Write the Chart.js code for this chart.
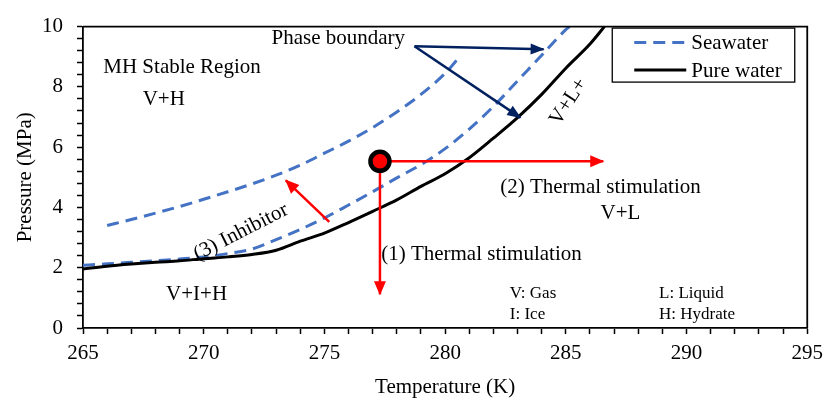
<!DOCTYPE html>
<html>
<head>
<meta charset="utf-8">
<script src="https://cdn.jsdelivr.net/npm/chart.js@4.4.1/dist/chart.umd.min.js"></script>
<style>
  html, body { margin: 0; padding: 0; background: #fff; }
</style>
</head>
<body>
<canvas id="phaseChart" width="830" height="402"></canvas>
<script>
// Axis ticks that carry a label
const tempTicks = [265, 270, 275, 280, 285, 290, 295];
const pressureTicks = [0, 2, 4, 6, 8, 10];

// Pure water hydrate equilibrium (T in K, P in MPa)
const pureT = [265, 266, 267, 268, 269, 270, 271, 272, 273, 274, 275, 276, 277, 278, 279, 280, 281, 282, 283, 284, 285, 286, 286.6];
const pureP = [1.96, 2.05, 2.12, 2.18, 2.23, 2.30, 2.36, 2.44, 2.58, 2.88, 3.15, 3.5, 3.87, 4.25, 4.7, 5.12, 5.65, 6.3, 6.98, 7.75, 8.62, 9.42, 10.0];

// Seawater, lower curve
const seaLowT = [265, 266, 267, 268, 269, 270, 271, 272, 273, 274, 275, 276, 277, 278, 279, 280, 281, 282, 283, 284, 285, 285.15];
const seaLowP = [2.08, 2.13, 2.18, 2.23, 2.29, 2.36, 2.47, 2.62, 2.93, 3.27, 3.65, 4.08, 4.52, 4.98, 5.42, 5.95, 6.6, 7.35, 8.2, 9.05, 9.9, 10.0];

// Seawater, upper curve
const seaHighT = [266, 267, 268, 269, 270, 271, 272, 273, 274, 275, 276, 277, 278, 279, 280, 280.65];
const seaHighP = [3.4, 3.6, 3.81, 4.03, 4.27, 4.52, 4.78, 5.07, 5.4, 5.8, 6.2, 6.65, 7.17, 7.75, 8.45, 9.05];

// Initial reservoir state and dissociation paths
const startState = [277.3, 5.53];
const heatAlongP = [286.55, 5.53];
const depressurize = [277.3, 1.12];
const inhibitorFrom = [275.2, 3.52];
const inhibitorTo = [273.4, 4.9];
const boundaryLabel = [278.73, 9.35];
const boundaryTipA = [284.08, 9.25];
const boundaryTipB = [283.12, 6.98];

const serif = 'Liberation Serif, Times New Roman, serif';
const RED = '#FF0000';
const NAVY = '#002060';
const SEA = '#4472C4';

function pts(xs, ys) {
    return xs.map((x, i) => ({ x: x, y: ys[i] }));
}

function arrowSet(from, to, color, width) {
    return {
        data: [{ x: from[0], y: from[1] }, { x: to[0], y: to[1] }],
        showLine: true, borderColor: color, borderWidth: width,
        pointRadius: 0, arrow: true, order: 2
    };
}

// text labels, placed in data units
const notes = [
    { text: 'MH Stable Region', at: [265.84, 8.45] },
    { text: 'V+H', at: [267.47, 7.41] },
    { text: 'Phase boundary', at: [272.81, 9.41] },
    { text: 'V+L+', at: [285.11, 7.51], rot: -57, center: true },
    { text: '(2) Thermal stimulation', at: [282.28, 4.48] },
    { text: 'V+L', at: [286.44, 3.62] },
    { text: '(1) Thermal stimulation', at: [277.35, 2.24] },
    { text: '(3) Inhibitor', at: [271.54, 3.18], rot: -27, center: true },
    { text: 'V+I+H', at: [268.44, 0.94] },
    { text: 'V: Gas', at: [282.68, 0.99], small: true },
    { text: 'I: Ice', at: [282.68, 0.30], small: true },
    { text: 'L: Liquid', at: [288.86, 0.99], small: true },
    { text: 'H: Hydrate', at: [288.86, 0.30], small: true }
];

const decorations = {
    id: 'decorations',
    afterDatasetsDraw(chart) {
        const ctx = chart.ctx;
        const xs = chart.scales.x, ys = chart.scales.y;
        // arrow heads
        chart.data.datasets.forEach((ds, i) => {
            if (!ds.arrow) return;
            const a = ds.data[0], b = ds.data[1];
            const x1 = xs.getPixelForValue(a.x), y1 = ys.getPixelForValue(a.y);
            const x2 = xs.getPixelForValue(b.x), y2 = ys.getPixelForValue(b.y);
            const ang = Math.atan2(y2 - y1, x2 - x1);
            const len = 13, half = ds.borderColor === RED ? 6 : 5.5;
            ctx.save();
            ctx.fillStyle = ds.borderColor;
            ctx.translate(x2, y2);
            ctx.rotate(ang);
            ctx.beginPath();
            ctx.moveTo(1, 0);
            ctx.lineTo(-len, -half);
            ctx.lineTo(-len, half);
            ctx.closePath();
            ctx.fill();
            ctx.restore();
        });
    },
    afterDraw(chart) {
        const ctx = chart.ctx;
        const area = chart.chartArea;
        const xs = chart.scales.x, ys = chart.scales.y;

        // top and right frame
        ctx.save();
        ctx.strokeStyle = '#000';
        ctx.lineWidth = 1.8;
        ctx.beginPath();
        ctx.moveTo(area.left, area.top);
        ctx.lineTo(area.right, area.top);
        ctx.lineTo(area.right, area.bottom);
        ctx.stroke();
        ctx.restore();

        // labels
        notes.forEach(n => {
            const px = xs.getPixelForValue(n.at[0]);
            const py = ys.getPixelForValue(n.at[1]);
            ctx.save();
            ctx.fillStyle = '#000';
            ctx.font = (n.small ? '17px ' : '21px ') + serif;
            ctx.translate(px, py);
            if (n.rot) ctx.rotate(n.rot * Math.PI / 180);
            ctx.textAlign = n.center ? 'center' : 'left';
            ctx.textBaseline = n.center ? 'middle' : 'alphabetic';
            ctx.fillText(n.text, 0, 0);
            ctx.restore();
        });

        // legend box
        const items = chart.data.datasets.filter(d => d.inLegend);
        const bx = area.right - 195, by = area.top + 1.5, bw = 182.5, bh = 54;
        ctx.save();
        ctx.fillStyle = '#fff';
        ctx.fillRect(bx, by, bw, bh);
        ctx.strokeStyle = '#000';
        ctx.lineWidth = 1.3;
        ctx.strokeRect(bx, by, bw, bh);
        ctx.font = '21px ' + serif;
        ctx.textBaseline = 'middle';
        ctx.textAlign = 'left';
        items.forEach((d, i) => {
            const ly = by + 14.5 + i * 27.5;
            ctx.strokeStyle = d.borderColor;
            ctx.lineWidth = d.borderWidth;
            ctx.setLineDash(d.borderDash || []);
            ctx.beginPath();
            ctx.moveTo(bx + 22, ly);
            ctx.lineTo(bx + 74, ly);
            ctx.stroke();
            ctx.setLineDash([]);
            ctx.fillStyle = '#000';
            ctx.fillText(d.label, bx + 79, ly + 1);
        });
        ctx.restore();
    }
};

const ctx = document.getElementById('phaseChart').getContext('2d');
new Chart(ctx, {
    type: 'scatter',
    data: {
        datasets: [
            {
                label: 'State', data: [{ x: startState[0], y: startState[1] }],
                pointRadius: 9.5, pointBackgroundColor: RED, pointBorderColor: '#000',
                pointBorderWidth: 4.5, showLine: false, order: 0
            },
            arrowSet(startState, heatAlongP, RED, 2.5),
            arrowSet(startState, depressurize, RED, 2.5),
            arrowSet(inhibitorFrom, inhibitorTo, RED, 2.5),
            arrowSet(boundaryLabel, boundaryTipA, NAVY, 2.5),
            arrowSet(boundaryLabel, boundaryTipB, NAVY, 2.5),
            {
                label: 'Seawater', data: pts(seaLowT, seaLowP), inLegend: true,
                showLine: true, borderColor: SEA, borderWidth: 3, borderDash: [12, 7],
                pointRadius: 0, cubicInterpolationMode: 'monotone', order: 4
            },
            {
                label: 'Seawater (high)', data: pts(seaHighT, seaHighP),
                showLine: true, borderColor: SEA, borderWidth: 3, borderDash: [12, 7],
                pointRadius: 0, cubicInterpolationMode: 'monotone', order: 4
            },
            {
                label: 'Pure water', data: pts(pureT, pureP), inLegend: true,
                showLine: true, borderColor: '#000', borderWidth: 3,
                pointRadius: 0, cubicInterpolationMode: 'monotone', order: 3
            }
        ]
    },
    options: {
        responsive: false,
        animation: false,
        devicePixelRatio: 1,
        layout: { padding: { left: 0, right: 18, top: 16, bottom: 0 } },
        plugins: {
            legend: { display: false },
            tooltip: { enabled: false }
        },
        scales: {
            x: {
                type: 'linear', min: tempTicks[0], max: tempTicks[tempTicks.length - 1],
                afterFit(s) { s.height = 74; },
                border: { color: '#000', width: 1.8 },
                grid: { drawOnChartArea: false, tickLength: 6, tickColor: '#000', tickWidth: 1.5 },
                ticks: {
                    stepSize: 1, autoSkip: false, maxRotation: 0, padding: 7, color: '#000',
                    font: { family: serif, size: 21 },
                    callback: v => tempTicks.includes(v) ? String(v) : ''
                },
                title: {
                    display: true, text: 'Temperature (K)', color: '#000',
                    font: { family: serif, size: 21 }, padding: { top: 0, bottom: 1.5 }
                }
            },
            y: {
                type: 'linear', min: pressureTicks[0], max: pressureTicks[pressureTicks.length - 1],
                afterFit(s) { s.width = 83; },
                border: { color: '#000', width: 1.8 },
                grid: { drawOnChartArea: false, tickLength: 6, tickColor: '#000', tickWidth: 1.5 },
                ticks: {
                    stepSize: 0.4, autoSkip: false, padding: 14, color: '#000',
                    font: { family: serif, size: 21 },
                    callback: v => {
                        const hit = pressureTicks.find(p => Math.abs(p - v) < 1e-6);
                        return hit === undefined ? '' : String(hit);
                    }
                },
                title: {
                    display: true, text: 'Pressure (MPa)', color: '#000',
                    font: { family: serif, size: 21 }, padding: { top: 12.4, bottom: 0 }
                }
            }
        }
    },
    plugins: [decorations]
});
</script>
</body>
</html>
